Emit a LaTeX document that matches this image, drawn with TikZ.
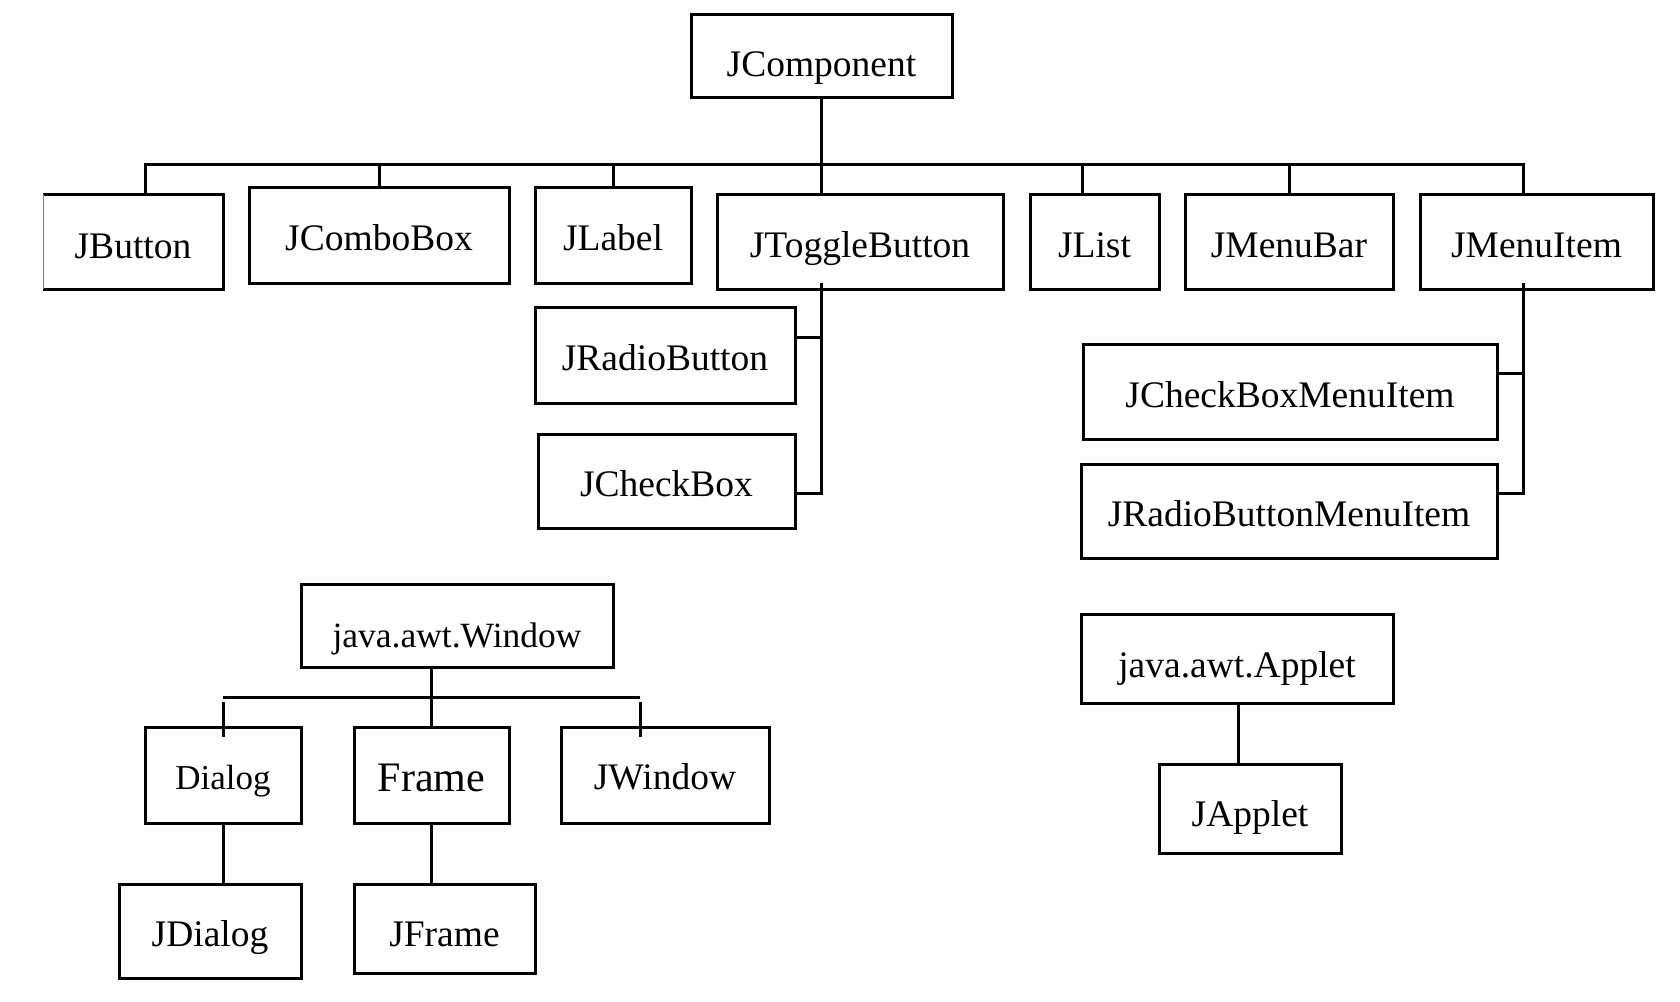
\documentclass[tikz,border=0pt]{standalone}
\usepackage{fontspec}
\setmainfont{Liberation Serif}
\begin{document}
\begin{tikzpicture}[x=1pt,y=-1pt,
  box/.style={draw=black, line width=3pt, rectangle, inner sep=0pt, outer sep=0pt,
    font=\fontsize{37.5}{45}\selectfont, text=black, text height=31pt, text depth=0pt},
  conn/.style={line width=3pt, line join=miter}]
\useasboundingbox (0,0) rectangle (1680,1001);
\fill[white] (0,0) rectangle (1680,1001);

% JComponent tree
\node[box, minimum width=261pt, minimum height=83pt, text height=42pt] (comp) at (821.5,55.5) {JComponent};
\node[box, draw=none, minimum width=180pt, minimum height=95pt, text height=33pt] (jbutton) at (133,241.5) {JButton};
\node[box, minimum width=260pt, minimum height=96pt] (jcombo) at (379,235) {JComboBox};
\node[box, minimum width=156pt, minimum height=96pt] (jlabel) at (613,235) {JLabel};
\node[box, minimum width=286pt, minimum height=95pt] (jtoggle) at (860,241.5) {JToggleButton};
\node[box, minimum width=129pt, minimum height=95pt] (jlist) at (1094.5,241.5) {JList};
\node[box, minimum width=208pt, minimum height=95pt] (jmenubar) at (1289,241.5) {JMenuBar};
\node[box, minimum width=233pt, minimum height=95pt] (jmenuitem) at (1536.5,241.5) {JMenuItem};
\node[box, minimum width=260pt, minimum height=96pt] (jradio) at (665,355) {JRadioButton};
\node[box, minimum width=257pt, minimum height=94pt] (jcheck) at (666.5,481) {JCheckBox};
\node[box, minimum width=414pt, minimum height=95pt] (jcbmi) at (1290,391.5) {JCheckBoxMenuItem};
\node[box, minimum width=416pt, minimum height=94pt] (jrbmi) at (1289,511) {JRadioButtonMenuItem};

% JButton outline (left edge is faint)
\draw[conn] (jbutton.north west) -- (jbutton.north east) -- (jbutton.south east) -- (jbutton.south west);
\draw[line width=0.8pt, gray] (jbutton.north west) -- (jbutton.south west);

% bus
\coordinate (busL) at (145,164);
\coordinate (busR) at (1523,164);
\coordinate (busC) at (821,164);
\draw[conn] (busL |- jbutton.north) -- (busL) -- (busR) -- (busR |- jmenuitem.north);
\draw[conn] (comp.south -| busC) -- (busC |- jtoggle.north);
\draw[conn] (379,164) -- (jcombo.north);
\draw[conn] (613,164) -- (jlabel.north);
\draw[conn] (1082,164) -- (1082,194);
\draw[conn] (jmenubar.north |- busC) -- (jmenubar.north);

% JToggleButton children
\coordinate (tgTop) at (821,283);
\coordinate (tgA) at (821,337);
\coordinate (tgB) at (821,493);
\draw[conn] (tgTop) -- (tgB) -- (tgB -| jcheck.east);
\draw[conn] (tgA) -- (tgA -| jradio.east);

% JMenuItem children
\coordinate (miTop) at (1523,283);
\coordinate (miA) at (1523,373);
\coordinate (miB) at (1523,493);
\draw[conn] (miTop) -- (miB) -- (miB -| jrbmi.east);
\draw[conn] (miA) -- (miA -| jcbmi.east);

% java.awt.Window tree
\node[box, minimum width=312pt, minimum height=83pt, font=\fontsize{35.5}{42}\selectfont, text height=44pt] (window) at (457,625.5) {java.awt.Window};
\node[box, minimum width=156pt, minimum height=96pt, font=\fontsize{35}{42}\selectfont, text height=29pt] (dialog) at (223,775) {Dialog};
\node[box, minimum width=155pt, minimum height=96pt, font=\fontsize{42}{50}\selectfont, text height=33pt] (frame) at (431.5,775) {Frame};
\node[box, minimum width=208pt, minimum height=96pt, text height=29pt] (jwindow) at (665,775) {JWindow};
\node[box, minimum width=182pt, minimum height=94pt] (jdialog) at (210,931) {JDialog};
\node[box, minimum width=181pt, minimum height=89pt, text height=36pt] (jframe) at (444.5,928.5) {JFrame};

\coordinate (wbL) at (223,697);
\coordinate (wbR) at (640,697);
\coordinate (wbC) at (431,697);
\draw[conn] (wbL) -- (wbR);
\draw[conn] (window.south -| wbC) -- (frame.north -| wbC);
\draw[conn] (223,702) -- (223,737);
\draw[conn] (640,702) -- (640,737);
\draw[conn] (dialog.south) -- (dialog.south |- jdialog.north);
\draw[conn] (frame.south -| wbC) -- (jframe.north -| wbC);

% Applet tree
\node[box, minimum width=312pt, minimum height=89pt, text height=38pt] (applet) at (1237,658.5) {java.awt.Applet};
\node[box, minimum width=182pt, minimum height=89pt, text height=36pt] (japplet) at (1250,808.5) {JApplet};
\coordinate (apX) at (1238,0);
\draw[conn] (applet.south -| apX) -- (japplet.north -| apX);
\end{tikzpicture}
\end{document}
